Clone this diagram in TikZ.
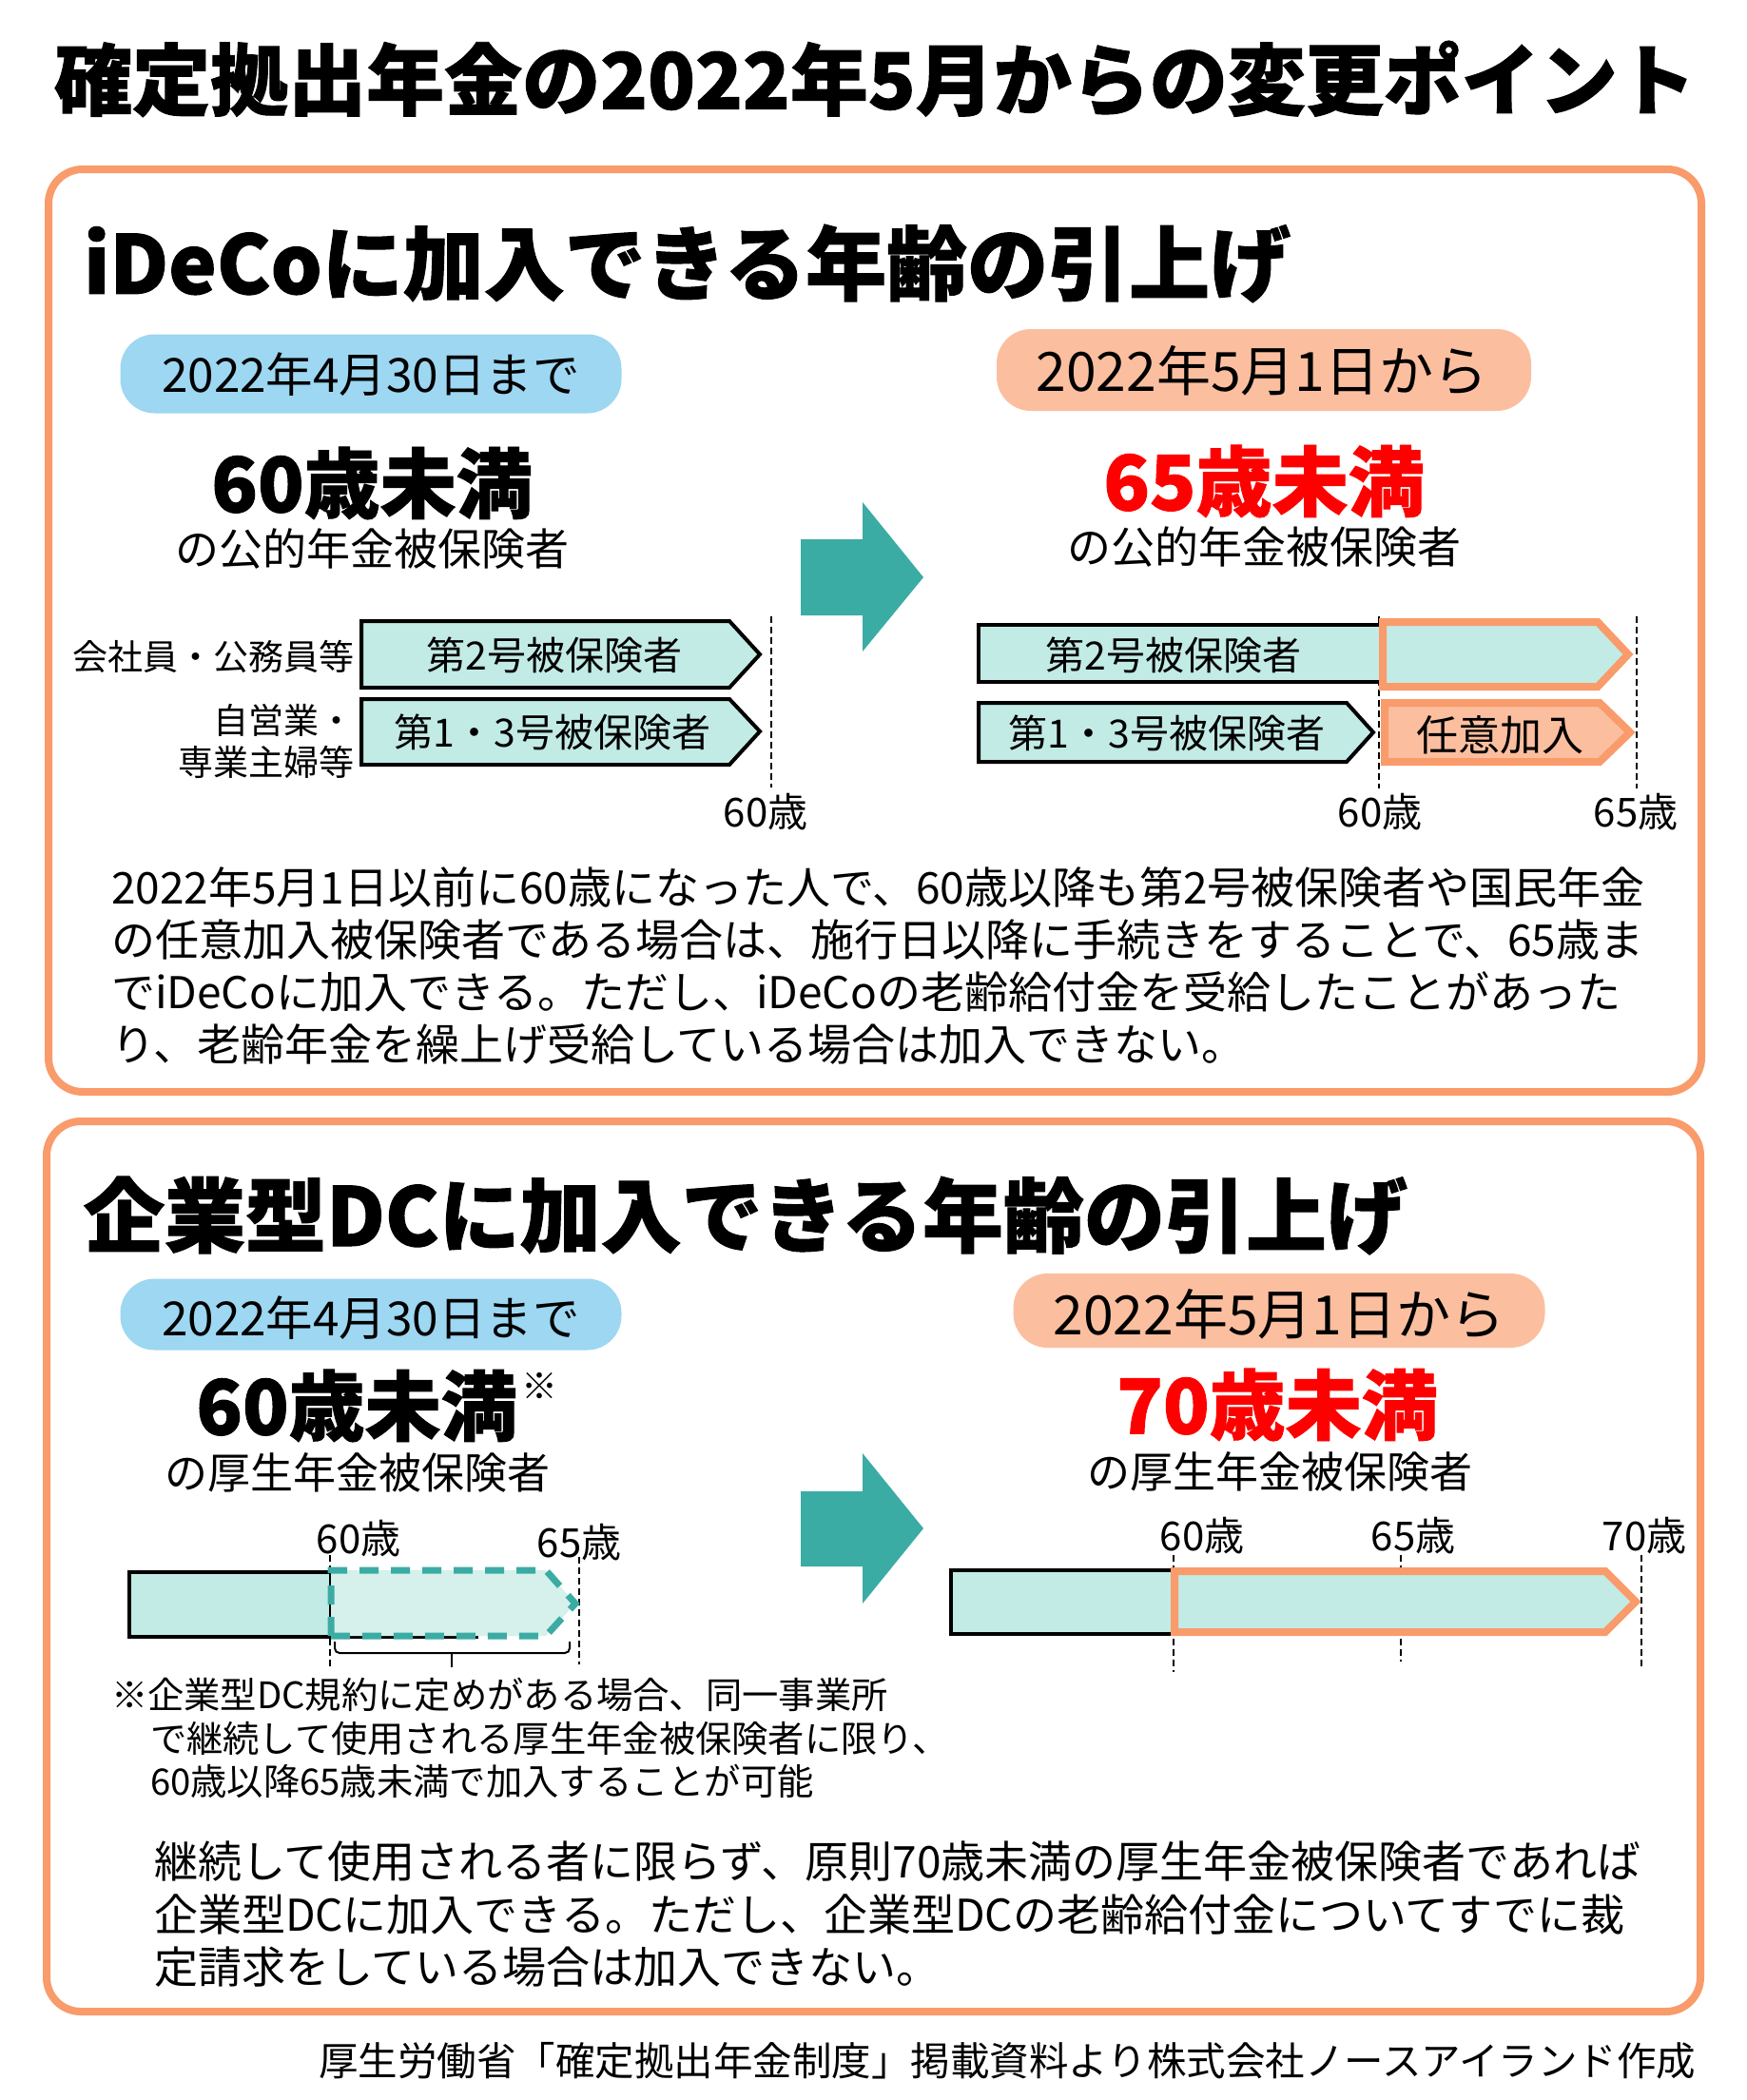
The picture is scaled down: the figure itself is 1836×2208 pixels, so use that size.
\documentclass[tikz,border=0pt]{standalone}
\usepackage{fontspec}
\setmainfont{Noto Sans CJK JP}
\newfontfamily\heavy{Noto Sans CJK JP}[BoldFeatures={FakeBold=1.2}]
\newcommand{\fs}[1]{\fontsize{#1pt}{#1pt}\selectfont}
\definecolor{orng}{RGB}{249,155,106}
\definecolor{pblue}{RGB}{157,215,242}
\definecolor{peach}{RGB}{251,191,159}
\definecolor{tealA}{RGB}{59,172,164}
\definecolor{lteal}{RGB}{194,235,230}
\definecolor{llteal}{RGB}{214,240,236}
\definecolor{redA}{RGB}{255,0,0}
\begin{document}
\begin{tikzpicture}[x=1pt,y=-1pt,
  txt/.style={inner sep=0pt, outer sep=0pt},
  panel/.style={draw=orng, line width=8pt, rounded corners=36pt},
  pill/.style={inner sep=0pt, rounded corners=36pt},
  blackbar/.style={draw=black, line width=4pt, fill=lteal, line join=miter},
  orgbar/.style={draw=orng, line width=8pt, line join=miter},
  agedash/.style={draw=black, line width=2pt, dash pattern=on 7pt off 4pt},
  bigarrow/.style={fill=tealA},
  heavytxt/.style={txt, font=\heavy\bfseries\fs{#1}},
  normtxt/.style={txt, font=\fs{#1}}
]
\useasboundingbox (0,0) rectangle (1836,2208);
\fill[white] (0,0) rectangle (1836,2208);

% title
\node[heavytxt=82] (title) at (920,83) {確定拠出年金の2022年5月からの変更ポイント};

% panels
\draw[panel] (51,178) rectangle (1789,1148);
\draw[panel] (49,1179) rectangle (1788,2115);

% ===== panel 1 =====
\node[heavytxt=85, anchor=west] (h1) at (88,277) {iDeCoに加入できる年齢の引上げ};
\node[pill, fill=pblue, minimum width=527pt, minimum height=83pt] (p1) at (390,393) {};
\node[normtxt=49.5] (p1t) at (390,394) {2022年4月30日まで};
\node[pill, fill=peach, minimum width=562pt, minimum height=86pt] (p2) at (1329,389) {};
\node[normtxt=57] (p2t) at (1327,390) {2022年5月1日から};

\node[heavytxt=80] (a60) at (391,508) {60歳未満};
\node[normtxt=46] (a60s) at (391,577) {の公的年金被保険者};
\node[heavytxt=80, text=redA] (a65) at (1329,506) {65歳未満};
\node[normtxt=46] (a65s) at (1329,575) {の公的年金被保険者};

\fill[bigarrow] (842,567) -- (907,567) -- (907,528) -- (971,607) -- (907,685) -- (907,647) -- (842,647) -- cycle;

% age dashed lines panel 1
\coordinate (d1t) at (811,648); \coordinate (d1b) at (811,828);
\coordinate (d2t) at (1450,648); \coordinate (d2b) at (1450,829);
\coordinate (d3t) at (1721,648); \coordinate (d3b) at (1721,829);
\draw[agedash] (d1t) -- (d1b);
\draw[agedash] (d2t) -- (d2b);
\draw[agedash] (d3t) -- (d3b);

% left bars
\draw[blackbar] (380,653) -- (767,653) -- (799,688) -- (767,723) -- (380,723) -- cycle;
\draw[blackbar] (380,735) -- (767,735) -- (799,769) -- (767,804) -- (380,804) -- cycle;
\node[normtxt=41] (b1t) at (583,689) {第2号被保険者};
\node[normtxt=41] (b2t) at (581,770) {第1・3号被保険者};
\node[normtxt=37] (l1) [anchor=east] at (372,690) {会社員・公務員等};
\node[normtxt=37] (l2) [anchor=east] at (372,757) {自営業・};
\node[normtxt=37] (l3) [anchor=east] at (372,801) {専業主婦等};
\node[normtxt=42] (g1) at (805,854) {60歳};

% right bars
\draw[blackbar] (1029,657) rectangle (1454,717);
\draw[orgbar, fill=lteal] (1454,654) -- (1680,654) -- (1712,688) -- (1680,722) -- (1454,722) -- cycle;
\draw[blackbar] (1029,739) -- (1416,739) -- (1444,770) -- (1416,801) -- (1029,801) -- cycle;
\draw[orgbar, fill=peach] (1456,739) -- (1682,739) -- (1714,770) -- (1682,801) -- (1456,801) -- cycle;
\node[normtxt=41] (b3t) at (1234,689) {第2号被保険者};
\node[normtxt=41] (b4t) at (1227,771) {第1・3号被保険者};
\node[normtxt=44] (b5t) at (1577,773) {任意加入};
\node[normtxt=42] (g2) at (1451,854) {60歳};
\node[normtxt=42] (g3) at (1720,854) {65歳};

% paragraph 1
\node[normtxt=46, anchor=west] (q1) at (117,933) {2022年5月1日以前に60歳になった人で、60歳以降も第2号被保険者や国民年金};
\node[normtxt=46, anchor=west] (q2) at (117,988) {の任意加入被保険者である場合は、施行日以降に手続きをすることで、65歳ま};
\node[normtxt=46, anchor=west] (q3) at (117,1043) {でiDeCoに加入できる。ただし、iDeCoの老齢給付金を受給したことがあった};
\node[normtxt=46, anchor=west] (q4) at (117,1098) {り、老齢年金を繰上げ受給している場合は加入できない。};

% ===== panel 2 =====
\node[heavytxt=85, anchor=west] (h2) at (88,1278) {企業型DCに加入できる年齢の引上げ};
\node[pill, fill=pblue, minimum width=527pt, minimum height=75pt] (p3) at (390,1382) {};
\node[normtxt=49.5] (p3t) at (390,1386) {2022年4月30日まで};
\node[pill, fill=peach, minimum width=559pt, minimum height=78pt] (p4) at (1345,1378) {};
\node[normtxt=57] (p4t) at (1345,1382) {2022年5月1日から};

\node[heavytxt=80] (c60) at (375,1478) {60歳未満};
\node[normtxt=38] (c60n) at (567,1457) {※};
\node[normtxt=45] (c60s) at (376,1548) {の厚生年金被保険者};
\node[heavytxt=80, text=redA] (c70) at (1343,1477) {70歳未満};
\node[normtxt=45] (c70s) at (1346,1547) {の厚生年金被保険者};

\fill[bigarrow] (842,1568) -- (907,1568) -- (907,1528) -- (971,1607) -- (907,1686) -- (907,1647) -- (842,1647) -- cycle;

% age dashed lines panel 2
\coordinate (e1t) at (347,1635); \coordinate (e1b) at (347,1752);
\coordinate (e2t) at (609,1637); \coordinate (e2b) at (609,1750);
\coordinate (e3t) at (1234,1635); \coordinate (e3b) at (1234,1758);
\coordinate (e4t) at (1473,1635); \coordinate (e4b) at (1473,1747);
\coordinate (e5t) at (1726,1635); \coordinate (e5b) at (1726,1753);
\draw[agedash] (e1t) -- (e1b);
\draw[agedash] (e2t) -- (e2b);
\draw[agedash] (e3t) -- (e3b);
\draw[agedash] (e4t) -- (e4b);
\draw[agedash] (e5t) -- (e5b);

% left bar panel 2
\draw[blackbar] (136,1653) rectangle (348,1721);
\draw[black, line width=3pt] (348,1721) -- (503,1721);
\fill[llteal] (348,1651) -- (574,1651) -- (605,1686) -- (574,1720) -- (348,1720) -- cycle;
\draw[draw=tealA, line width=7pt, dash pattern=on 20pt off 13pt] (348,1720) -- (348,1651) -- (574,1651) -- (605,1686) -- (574,1720) -- cycle;
\node[normtxt=42] (f1) at (377,1618) {60歳};
\node[normtxt=42] (f2) at (609,1622) {65歳};
\coordinate (brl) at (352,1726); \coordinate (brr) at (599,1726);
\coordinate (brm) at (475,1738); \coordinate (brt) at (475,1753);
\draw[black, line width=2pt, rounded corners=5pt] (brl) |- (brm) -| (brr);
\draw[black, line width=2pt] (brm) -- (brt);

% notes
\node[normtxt=38.3, anchor=west] (n1) at (117,1782) {※企業型DC規約に定めがある場合、同一事業所};
\node[normtxt=38.3, anchor=west] (n2) at (158,1828) {で継続して使用される厚生年金被保険者に限り、};
\node[normtxt=38.3, anchor=west] (n3) at (158,1873) {60歳以降65歳未満で加入することが可能};

% right bar panel 2
\draw[blackbar] (1000,1651) rectangle (1235,1718);
\draw[black, line width=3pt] (1235,1718) -- (1383,1718);
\draw[orgbar, fill=lteal] (1235,1652) -- (1688,1652) -- (1720,1684) -- (1688,1716) -- (1235,1716) -- cycle;
\node[normtxt=42] (f3) at (1264,1615) {60歳};
\node[normtxt=42] (f4) at (1486,1615) {65歳};
\node[normtxt=42] (f5) at (1729,1615) {70歳};

% paragraph 2
\node[normtxt=46, anchor=west] (r1) at (162,1957) {継続して使用される者に限らず、原則70歳未満の厚生年金被保険者であれば};
\node[normtxt=46, anchor=west] (r2) at (162,2013) {企業型DCに加入できる。ただし、企業型DCの老齢給付金についてすでに裁};
\node[normtxt=46, anchor=west] (r3) at (162,2068) {定請求をしている場合は加入できない。};

% footer
\node[normtxt=41.5, anchor=east] (foot) at (1783,2167) {厚生労働省「確定拠出年金制度」掲載資料より株式会社ノースアイランド作成};
\end{tikzpicture}
\end{document}
